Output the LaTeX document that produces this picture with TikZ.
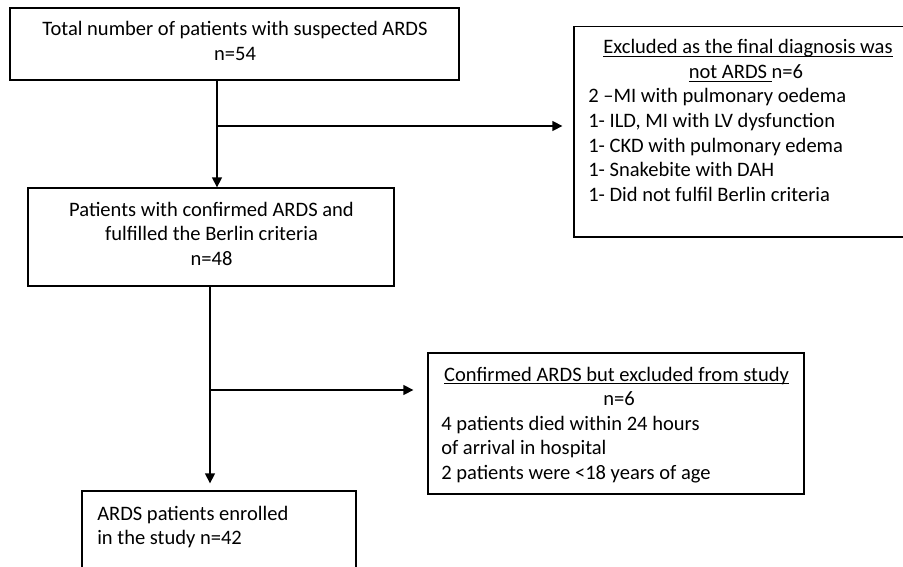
\documentclass[tikz,border=0pt]{standalone}
\usepackage{fontspec}
\setmainfont{Carlito}
\usetikzlibrary{arrows.meta}
\newcommand\myul[1]{\setbox0\hbox{#1}\rlap{\rule[-2.4pt]{\wd0}{0.75pt}}\box0}
\begin{document}
\begin{tikzpicture}[x=0.75pt,y=-0.75pt,
  box/.style={draw=black,line width=1pt,inner sep=0pt,rectangle},
  ln/.style={inner sep=0pt,anchor=base,font=\fontsize{15.4}{18.4}\selectfont},
  lnl/.style={ln,anchor=base west},
  arr/.style={draw=black,line width=1.1pt,-{Triangle[length=7.5pt,width=7.5pt]}}]
\clip (0,0) rectangle (903,567);
% boxes
\node[box,minimum width=336.75pt,minimum height=54pt] (b1) at (234.5,44) {};
\node[box,minimum width=274.5pt,minimum height=73.5pt] (b2) at (211,237) {};
\node[box,minimum width=249pt,minimum height=157.9pt] (r1) at (740,131.75) {};
\node[box,minimum width=282pt,minimum height=105.75pt] (b3) at (616,423.5) {};
\node[box,minimum width=205.5pt,minimum height=74.25pt] (b4) at (219,540.5) {};
% texts box 1
\node[ln] (t1a) at (235,36) {Total number of patients with suspected ARDS};
\node[ln] (t1b) at (235,60.5) {n=54};
% texts box 2
\node[ln] (t2a) at (211.5,216) {Patients with confirmed ARDS and};
\node[ln] (t2b) at (211.5,240.5) {fulfilled the Berlin criteria};
\node[ln] (t2c) at (211.5,265) {n=48};
% texts right box 1
\node[ln] (r1a) at (748,54) {\myul{Excluded as the final diagnosis was}};
\node[ln] (r1b) at (746,78.5) {\myul{not ARDS\ }n=6};
\node[lnl] (r1c) at (588,103) {2 –MI with pulmonary oedema};
\node[lnl] (r1d) at (588,127.5) {1- ILD, MI with LV dysfunction};
\node[lnl] (r1e) at (588,152) {1- CKD with pulmonary edema};
\node[lnl] (r1f) at (588,176.5) {1- Snakebite with DAH};
\node[lnl] (r1g) at (588,201) {1- Did not fulfil Berlin criteria};
% texts box 3
\node[ln] (t3a) at (616.5,381) {\myul{Confirmed ARDS but excluded from study}};
\node[ln] (t3b) at (619,405.5) {n=6};
\node[lnl] (t3c) at (441,430) {4 patients died within 24 hours};
\node[lnl] (t3d) at (441,454.5) {of arrival in hospital};
\node[lnl] (t3e) at (441,479) {2 patients were <18 years of age};
% texts box 4
\node[lnl] (t4a) at (97,520) {ARDS patients enrolled};
\node[lnl] (t4b) at (97,544) {in the study n=42};
% connectors
\coordinate (j1) at (217,126);
\coordinate (j2) at (210,390);
\draw[arr] (b1.south -| j1) -- (b2.north -| j1);
\draw[arr,shorten >=8.25pt] (j1) -- (j1 -| r1.west);
\draw[arr,shorten >=5.25pt] (b2.south -| j2) -- (b4.north -| j2);
\draw[arr,shorten >=10.5pt] (j2) -- (j2 -| b3.west);
\end{tikzpicture}
\end{document}
